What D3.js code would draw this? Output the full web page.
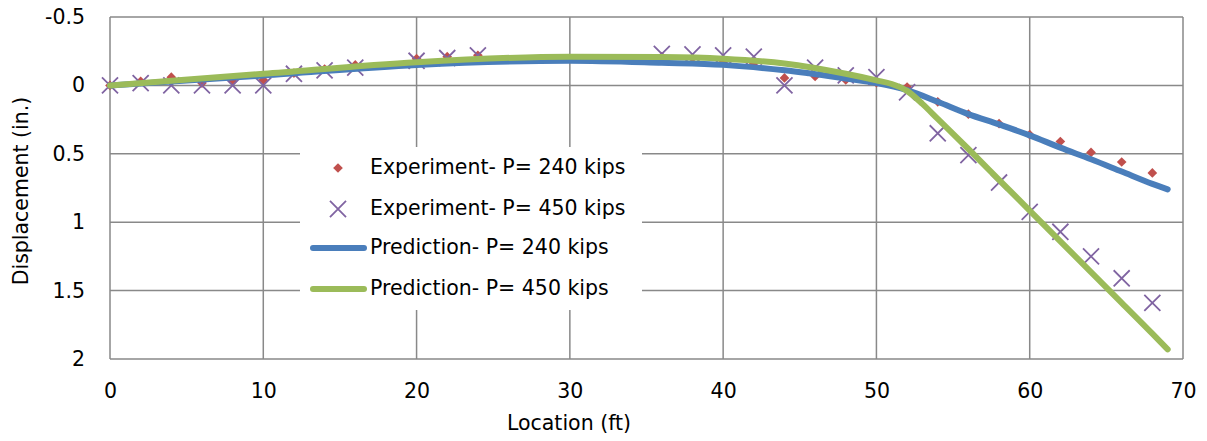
<!DOCTYPE html>
<html>
<head>
<meta charset="utf-8">
<script src="https://cdn.jsdelivr.net/npm/d3@7"></script>
<style>
  html, body { margin: 0; padding: 0; background: #fff; }
  svg { display: block; }
  text { font-family: "DejaVu Sans", sans-serif; fill: #000; }
</style>
</head>
<body>
<svg id="chart" width="1207" height="441"></svg>
<script>
// Measured stations along the pile (ft)
const expLocations = [0, 2, 4, 6, 8, 10, 12, 14, 16, 20, 22, 24, 36, 38, 40, 42, 44, 46, 48, 50, 52, 54, 56, 58, 60, 62, 64, 66, 68];

// Measured displacement (in.), P = 240 kips
const exp240 = [0, -0.03, -0.06, -0.017, -0.03, -0.04, -0.09, -0.12, -0.15, -0.195, -0.21, -0.22, -0.21, -0.2, -0.17, -0.16, -0.055, -0.065, -0.04, -0.02, 0.012, 0.12, 0.21, 0.28, 0.36, 0.41, 0.49, 0.56, 0.64];

// Measured displacement (in.), P = 450 kips
const exp450 = [0, -0.017, 0, 0, 0, 0, -0.085, -0.11, -0.13, -0.18, -0.2, -0.22, -0.23, -0.226, -0.22, -0.21, 0, -0.13, -0.073, -0.06, 0.05, 0.35, 0.51, 0.71, 0.925, 1.07, 1.25, 1.41, 1.59];

// Predicted profile, P = 240 kips
const pred240X = [0, 10, 20, 30, 36, 40, 44, 48, 50, 52, 54, 56, 58, 60, 62, 64, 66, 68, 69];
const pred240Y = [0, -0.072, -0.15, -0.18, -0.165, -0.15, -0.11, -0.05, -0.017, 0.035, 0.12, 0.21, 0.285, 0.365, 0.455, 0.54, 0.63, 0.72, 0.76];

// Predicted profile, P = 450 kips
const pred450X = [0, 10, 20, 30, 36, 40, 44, 48, 50, 51, 52, 53, 54, 56, 58, 60, 62, 64, 66, 68, 69];
const pred450Y = [0, -0.085, -0.17, -0.21, -0.207, -0.195, -0.16, -0.085, -0.037, -0.01, 0.04, 0.135, 0.245, 0.465, 0.69, 0.915, 1.14, 1.365, 1.59, 1.815, 1.93];

const xTicks = [0, 10, 20, 30, 40, 50, 60, 70];
const yTicks = [-0.5, 0, 0.5, 1, 1.5, 2];

const legendLabels = [
  "Experiment- P= 240 kips",
  "Experiment- P= 450 kips",
  "Prediction- P= 240 kips",
  "Prediction- P= 450 kips"
];

const colors = { exp240: "#C0504D", exp450: "#8064A2", pred240: "#4A7EBB", pred450: "#9BBB59" };

const svg = d3.select("#chart");
const plot = { left: 110, right: 1183, top: 17, bottom: 359 };

const x = d3.scaleLinear().domain([0, 70]).range([plot.left, plot.right]);
const y = d3.scaleLinear().domain([-0.5, 2]).range([plot.top, plot.bottom]);

const gridColor = "#898989";
const fontSize = 20.5;
const fontFamily = "'DejaVu Sans', sans-serif";

// Gridlines
const grid = svg.append("g");
grid.selectAll("line.h").data(yTicks).join("line")
  .attr("x1", plot.left).attr("x2", plot.right)
  .attr("y1", d => y(d)).attr("y2", d => y(d))
  .attr("stroke", gridColor).attr("stroke-width", 1.5);
grid.selectAll("line.v").data(xTicks).join("line")
  .attr("y1", plot.top).attr("y2", plot.bottom)
  .attr("x1", d => x(d)).attr("x2", d => x(d))
  .attr("stroke", gridColor).attr("stroke-width", 1.5);

// Axes (labels only; lines come from the grid)
const xAxis = d3.axisBottom(x).tickValues(xTicks).tickSize(0).tickPadding(24).tickFormat(d3.format("d"));
const gx = svg.append("g").attr("transform", `translate(0,${plot.bottom})`).call(xAxis);
gx.select(".domain").remove();
gx.selectAll("text").style("font-size", fontSize + "px").style("font-family", fontFamily).attr("fill", "#000");

const yAxis = d3.axisLeft(y).tickValues(yTicks).tickSize(0).tickPadding(25).tickFormat(d => String(d));
const gy = svg.append("g").attr("transform", `translate(${plot.left},0)`).call(yAxis);
gy.select(".domain").remove();
gy.selectAll("text").style("font-size", fontSize + "px").style("font-family", fontFamily).attr("fill", "#000");

// Axis titles
svg.append("text")
  .attr("x", 569).attr("y", 424)
  .attr("text-anchor", "middle").attr("dominant-baseline", "middle")
  .style("font-size", fontSize + "px")
  .text("Location (ft)");
svg.append("text")
  .attr("transform", `translate(22,${(plot.top + plot.bottom) / 2 + 3}) rotate(-90)`)
  .attr("text-anchor", "middle").attr("dominant-baseline", "middle")
  .style("font-size", fontSize + "px")
  .text("Displacement (in.)");

// Experimental markers
const diamond = d3.symbol().type(d3.symbolDiamond2).size(60);
const marks = svg.append("g");
marks.selectAll("path.d240").data(expLocations).join("path")
  .attr("transform", (d, i) => `translate(${x(d)},${y(exp240[i])})`)
  .attr("d", diamond)
  .attr("fill", colors.exp240);

const cross = d3.symbol().type(d3.symbolX).size(170);
marks.selectAll("path.x450").data(expLocations).join("path")
  .attr("transform", (d, i) => `translate(${x(d)},${y(exp450[i])})`)
  .attr("d", cross)
  .attr("fill", "none")
  .attr("stroke", colors.exp450).attr("stroke-width", 1.8);

// Predicted profiles
const line = d3.line().x(d => x(d[0])).y(d => y(d[1])).curve(d3.curveMonotoneX);
svg.append("path")
  .datum(pred240X.map((v, i) => [v, pred240Y[i]]))
  .attr("d", line)
  .attr("fill", "none").attr("stroke", colors.pred240)
  .attr("stroke-width", 6).attr("stroke-linecap", "round").attr("stroke-linejoin", "round");
svg.append("path")
  .datum(pred450X.map((v, i) => [v, pred450Y[i]]))
  .attr("d", line)
  .attr("fill", "none").attr("stroke", colors.pred450)
  .attr("stroke-width", 6).attr("stroke-linecap", "round").attr("stroke-linejoin", "round");

// Legend
const legend = svg.append("g");
legend.append("rect")
  .attr("x", 300).attr("y", 147).attr("width", 342).attr("height", 163)
  .attr("fill", "#fff");
const rowY = [168, 209, 248, 289];
legend.selectAll("text").data(legendLabels).join("text")
  .attr("x", 370).attr("y", (d, i) => rowY[i])
  .attr("dominant-baseline", "middle")
  .style("font-size", fontSize + "px")
  .text(d => d);
legend.append("path")
  .attr("transform", `translate(338,${rowY[0]})`)
  .attr("d", diamond).attr("fill", colors.exp240);
legend.append("path")
  .attr("transform", `translate(338,${rowY[1]})`)
  .attr("d", cross).attr("fill", "none")
  .attr("stroke", colors.exp450).attr("stroke-width", 1.8);
legend.append("line")
  .attr("x1", 313).attr("x2", 364).attr("y1", rowY[2]).attr("y2", rowY[2])
  .attr("stroke", colors.pred240).attr("stroke-width", 6).attr("stroke-linecap", "round");
legend.append("line")
  .attr("x1", 313).attr("x2", 364).attr("y1", rowY[3]).attr("y2", rowY[3])
  .attr("stroke", colors.pred450).attr("stroke-width", 6).attr("stroke-linecap", "round");
</script>
</body>
</html>
